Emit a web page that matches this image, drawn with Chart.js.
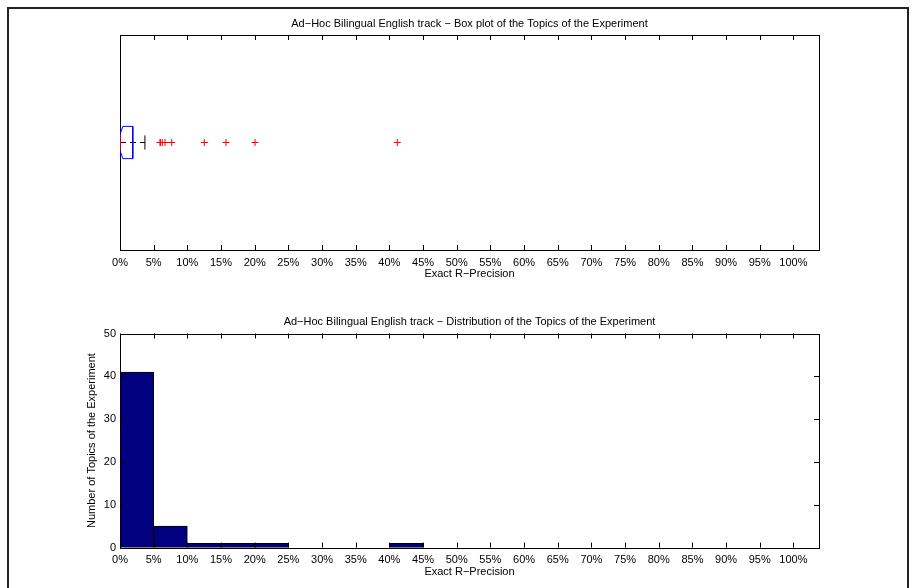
<!DOCTYPE html>
<html>
<head>
<meta charset="utf-8">
<script src="https://cdn.jsdelivr.net/npm/chart.js@4.4.1/dist/chart.umd.min.js"></script>
<style>
  html, body { margin: 0; padding: 0; background: #fff; }
  #wrap { position: relative; width: 912px; height: 588px; overflow: hidden; background: #fff; }
  #frame { position: absolute; left: 7px; top: 7px; width: 898px; height: 640px; border: 2px solid #222; }
  canvas { position: absolute; left: 0; }
  #c1 { top: 0; }
  #c2 { top: 294px; }
</style>
</head>
<body>
<div id="wrap">
  <div id="frame"></div>
  <canvas id="c1" width="912" height="294" style="width:912px;height:294px"></canvas>
  <canvas id="c2" width="912" height="294" style="width:912px;height:294px"></canvas>
</div>
<script>
(function () {
// ---------------- DATA ----------------
const boxTitle = 'Ad\u2212Hoc Bilingual English track \u2212 Box plot of the Topics of the Experiment';
const histTitle = 'Ad\u2212Hoc Bilingual English track \u2212 Distribution of the Topics of the Experiment';
const xAxisTitle = 'Exact R\u2212Precision';
const yAxisTitle = 'Number of Topics of the Experiment';

const xTickValues = [0, 0.05, 0.10, 0.15, 0.20, 0.25, 0.30, 0.35, 0.40, 0.45, 0.50,
                     0.55, 0.60, 0.65, 0.70, 0.75, 0.80, 0.85, 0.90, 0.95, 1.00];
const xTickLabels = ['0%', '5%', '10%', '15%', '20%', '25%', '30%', '35%', '40%', '45%', '50%',
                     '55%', '60%', '65%', '70%', '75%', '80%', '85%', '90%', '95%', '100%'];
const yTickValues = [0, 10, 20, 30, 40, 50];

// box plot statistics (Exact R-Precision)
const quartiles = [0, 0, 0.019];          // q1, median, q3
const whiskers = [0, 0.037];              // lower / upper adjacent values
const topicCount = 50;
const outlierValues = [0.0594, 0.0600, 0.0628, 0.0668, 0.0768, 0.1252, 0.1574, 0.2005, 0.4118];

// histogram
const binLower = [0, 0.05, 0.10, 0.15, 0.20, 0.25, 0.30, 0.35, 0.40, 0.45,
                  0.50, 0.55, 0.60, 0.65, 0.70, 0.75, 0.80, 0.85, 0.90, 0.95];
const binCounts = [41, 5, 1, 1, 1, 0, 0, 0, 1, 0,
                   0, 0, 0, 0, 0, 0, 0, 0, 0, 0];
const binWidth = 0.05;

// ---------------- STYLE ----------------
const FONT = "'Liberation Sans', Arial, Helvetica, sans-serif";
Chart.defaults.font.family = FONT;
Chart.defaults.font.size = 11;
Chart.defaults.color = '#000';
const X_MAX = 1.038;
const BOX_CENTER = 1, BOX_HALF = 0.075, NOTCH_HALF = 0.0375, CAP_HALF = 0.033;
const TICK_LEN = 5;

// inward ticks + axes frame
function framePlugin(id, hook, withY) {
  return {
    id: id,
    [hook](chart) {
      const ctx = chart.ctx, a = chart.chartArea;
      const xs = chart.scales.x, ys = chart.scales.y;
      ctx.save();
      ctx.strokeStyle = '#000';
      ctx.lineWidth = 1;
      ctx.beginPath();
      xs.ticks.forEach(t => {
        const px = Math.round(xs.getPixelForValue(t.value)) + 0.5;
        ctx.moveTo(px, a.bottom); ctx.lineTo(px, a.bottom - TICK_LEN);
        ctx.moveTo(px, a.top); ctx.lineTo(px, a.top + TICK_LEN);
      });
      if (withY) {
        ys.ticks.forEach(t => {
          const py = Math.round(ys.getPixelForValue(t.value)) + 0.5;
          ctx.moveTo(a.left, py); ctx.lineTo(a.left + TICK_LEN, py);
          ctx.moveTo(a.right, py); ctx.lineTo(a.right - TICK_LEN, py);
        });
      }
      ctx.stroke();
      ctx.strokeRect(Math.round(a.left) + 0.5, Math.round(a.top) + 0.5,
                     Math.round(a.right - a.left), Math.round(a.bottom - a.top));
      ctx.restore();
    }
  };
}

function xScaleOptions() {
  return {
    type: 'linear',
    min: 0,
    max: X_MAX,
    offset: false,
    afterBuildTicks: s => { s.ticks = xTickValues.map(v => ({ value: v })); },
    afterFit: s => { s.height = 31; },
    ticks: {
      autoSkip: false, maxRotation: 0, minRotation: 0, padding: 6,
      callback: (v, i) => xTickLabels[i]
    },
    grid: { display: false, drawTicks: false },
    border: { display: false },
    title: { display: true, text: xAxisTitle, padding: 0, font: { size: 11 } }
  };
}

// ---------------- BOX PLOT ----------------
const q1 = quartiles[0], med = quartiles[1], q3 = quartiles[2];
const notch = 1.57 * (q3 - q1) / Math.sqrt(topicCount);
const boxTop = BOX_CENTER + BOX_HALF, boxBot = BOX_CENTER - BOX_HALF;
const boxOutline = [
  { x: q1, y: boxTop }, { x: med - notch, y: boxTop }, { x: med, y: BOX_CENTER + NOTCH_HALF },
  { x: med + notch, y: boxTop }, { x: q3, y: boxTop }, { x: q3, y: boxBot },
  { x: med + notch, y: boxBot }, { x: med, y: BOX_CENTER - NOTCH_HALF }, { x: med - notch, y: boxBot },
  { x: q1, y: boxBot }, { x: q1, y: boxTop }
];

new Chart(document.getElementById('c1'), {
  type: 'scatter',
  data: {
    datasets: [
      { type: 'line', data: [{ x: whiskers[0], y: BOX_CENTER }, { x: whiskers[1], y: BOX_CENTER }],
        borderColor: '#000', borderWidth: 1, borderDash: [6, 4], pointRadius: 0, fill: false, order: 5 },
      { type: 'line', data: [{ x: whiskers[1], y: BOX_CENTER - CAP_HALF }, { x: whiskers[1], y: BOX_CENTER + CAP_HALF }],
        borderColor: '#000', borderWidth: 1, pointRadius: 0, fill: false, order: 4 },
      { type: 'line', data: [{ x: whiskers[0], y: BOX_CENTER - CAP_HALF }, { x: whiskers[0], y: BOX_CENTER + CAP_HALF }],
        borderColor: '#000', borderWidth: 1, pointRadius: 0, fill: false, order: 4 },
      { type: 'line', data: boxOutline, borderColor: '#0000ff', borderWidth: 1, pointRadius: 0,
        fill: false, tension: 0, order: 3 },
      { type: 'line', data: [{ x: med, y: BOX_CENTER - NOTCH_HALF }, { x: med, y: BOX_CENTER + NOTCH_HALF }],
        borderColor: '#ff0000', borderWidth: 1.5, pointRadius: 0, fill: false, order: 2 },
      { type: 'scatter', data: outlierValues.map(v => ({ x: v, y: BOX_CENTER })),
        pointStyle: 'cross', pointRadius: 3.5, pointHoverRadius: 3.5, borderColor: '#ff0000',
        backgroundColor: '#ff0000', borderWidth: 1, order: 1 }
    ]
  },
  options: {
    responsive: false,
    animation: false,
    events: [],
    layout: { padding: { left: 120, right: 93, top: 10, bottom: 13 } },
    plugins: {
      legend: { display: false },
      tooltip: { enabled: false },
      title: { display: true, text: boxTitle, fullSize: false, color: '#000',
               font: { size: 11, weight: 'normal' }, padding: { top: 7.4, bottom: 4.4 } }
    },
    scales: {
      x: xScaleOptions(),
      y: { type: 'linear', min: 0.5, max: 1.5, display: false }
    }
  },
  plugins: [framePlugin('frame1', 'beforeDatasetsDraw', false)]
});

// ---------------- HISTOGRAM ----------------
new Chart(document.getElementById('c2'), {
  type: 'bar',
  data: {
    datasets: [{
      data: binLower.map((b, i) => ({ x: b + binWidth / 2, y: binCounts[i] })),
      backgroundColor: '#000080',
      borderColor: '#000',
      borderWidth: 1,
      borderSkipped: false,
      barPercentage: 1,
      categoryPercentage: 1
    }]
  },
  options: {
    responsive: false,
    animation: false,
    events: [],
    layout: { padding: { left: 80, right: 93, top: 10, bottom: 9.4 } },
    plugins: {
      legend: { display: false },
      tooltip: { enabled: false },
      title: { display: true, text: histTitle, fullSize: false, color: '#000',
               font: { size: 11, weight: 'normal' }, padding: { top: 11.4, bottom: 4.9 } }
    },
    scales: {
      x: xScaleOptions(),
      y: {
        type: 'linear', min: 0, max: 50,
        afterBuildTicks: s => { s.ticks = yTickValues.map(v => ({ value: v })); },
        afterFit: s => { s.width = 40; },
        ticks: { padding: 4 },
        grid: { display: false, drawTicks: false },
        border: { display: false },
        title: { display: true, text: yAxisTitle, padding: { top: 5.4, bottom: 0 }, font: { size: 11 } }
      }
    }
  },
  plugins: [framePlugin('frame2', 'afterDatasetsDraw', true)]
});
})();
</script>
</body>
</html>
